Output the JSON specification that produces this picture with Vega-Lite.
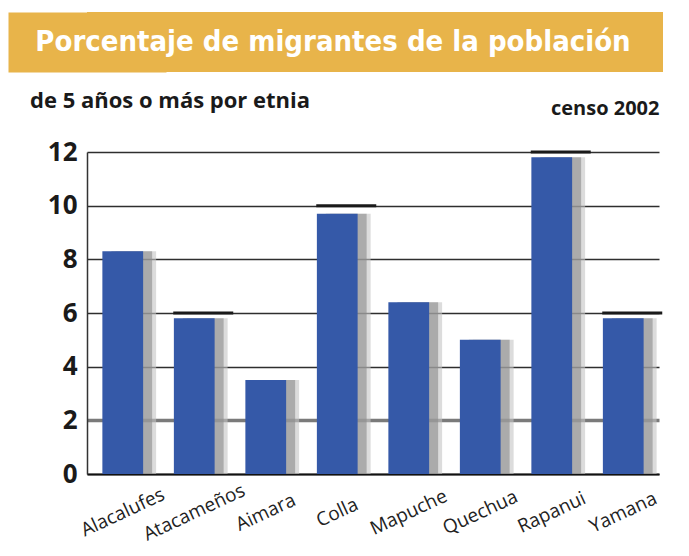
{
  "$schema": "https://vega.github.io/schema/vega-lite/v6.json",
  "background": "white",
  "padding": {"left": 8, "top": 12, "right": 0, "bottom": 0},
  "spacing": 18,
  "config": {
    "view": {"stroke": null},
    "font": "Open Sans",
    "axisY": {
      "title": null,
      "labelFont": "Open Sans",
      "labelFontSize": 26,
      "labelFontWeight": "bold",
      "labelColor": "#1a1a1a",
      "labelPadding": 10,
      "ticks": false,
      "tickSize": 0,
      "minExtent": 79,
      "domainColor": "#333333",
      "domainWidth": 1.5
    }
  },
  "datasets": {
    "titulo": [{"texto": "Porcentaje de migrantes de la población"}],
    "migrantes": [
      {"etnia": "Alacalufes", "porcentaje": 8.3},
      {"etnia": "Atacameños", "porcentaje": 5.8},
      {"etnia": "Aimara", "porcentaje": 3.5},
      {"etnia": "Colla", "porcentaje": 9.7},
      {"etnia": "Mapuche", "porcentaje": 6.4},
      {"etnia": "Quechua", "porcentaje": 5.0},
      {"etnia": "Rapanui", "porcentaje": 11.8},
      {"etnia": "Yamana", "porcentaje": 5.8}
    ],
    "marcas": [
      {"etnia": "Atacameños", "marca": 6},
      {"etnia": "Colla", "marca": 10},
      {"etnia": "Rapanui", "marca": 12},
      {"etnia": "Yamana", "marca": 6}
    ]
  },
  "vconcat": [
    {
      "width": 576,
      "height": 60,
      "view": {"fill": "#E8B44A", "stroke": null},
      "data": {"name": "titulo"},
      "mark": {
        "type": "text",
        "align": "center",
        "baseline": "middle",
        "dx": -42,
        "font": "DejaVu Sans Condensed",
        "fontSize": 29,
        "fontWeight": "bold",
        "color": "white"
      },
      "encoding": {
        "text": {"field": "texto", "type": "nominal"},
        "y": {
          "datum": 1, "type": "quantitative",
          "scale": {"domain": [0, 2]},
          "axis": {
            "title": null,
            "labels": false,
            "ticks": false,
            "grid": false,
            "domain": true,
            "domainColor": "#E8B44A",
            "domainWidth": 158,
            "domainCap": "butt",
            "minExtent": 79
          }
        }
      }
    },
    {
      "width": 572,
      "height": 322,
      "title": {
        "text": "de 5 años o más por etnia",
        "anchor": "start",
        "frame": "bounds",
        "dx": 22,
        "offset": -32,
        "baseline": "alphabetic",
        "font": "Open Sans",
        "fontSize": 22,
        "fontWeight": "bold",
        "color": "#1a1a1a"
      },
      "resolve": {"axis": {"x": "independent"}},
      "layer": [
        {
          "data": {"name": "migrantes"},
          "mark": {"type": "bar", "color": "#c4c4c4", "opacity": 0.6, "xOffset": 13},
          "encoding": {
            "x": {"field": "etnia", "type": "nominal", "sort": ["Alacalufes", "Atacameños", "Aimara", "Colla", "Mapuche", "Quechua", "Rapanui", "Yamana"], "scale": {"paddingInner": 0.43, "paddingOuter": 0.215}, "axis": null},
            "y": {"field": "porcentaje", "type": "quantitative", "scale": {"domain": [0, 12], "nice": false}, "axis": {"title": null, "values": [0, 2, 4, 6, 8, 10, 12]}}
          }
        },
        {
          "data": {"name": "migrantes"},
          "mark": {"type": "bar", "color": "#8a8a8a", "opacity": 0.6, "xOffset": 9},
          "encoding": {
            "x": {"field": "etnia", "type": "nominal", "sort": ["Alacalufes", "Atacameños", "Aimara", "Colla", "Mapuche", "Quechua", "Rapanui", "Yamana"], "axis": null},
            "y": {"field": "porcentaje", "type": "quantitative", "axis": {"title": null, "values": [0, 2, 4, 6, 8, 10, 12]}}
          }
        },
        {
          "data": {"name": "migrantes"},
          "mark": {"type": "bar", "color": "#3559A8"},
          "encoding": {
            "x": {
              "field": "etnia", "type": "nominal",
              "sort": ["Alacalufes", "Atacameños", "Aimara", "Colla", "Mapuche", "Quechua", "Rapanui", "Yamana"],
              "axis": {
                "title": null,
                "orient": "bottom",
                "labelAngle": -25,
                "labelAlign": "center",
                "labelBaseline": "middle",
                "labelPadding": 38,
                "labelFont": "Open Sans",
                "labelFontSize": 19,
                "labelColor": "#222222",
                "ticks": false,
                "tickSize": 0,
                "domain": true,
                "domainColor": "#111111",
                "domainWidth": 2
              }
            },
            "y": {
              "field": "porcentaje", "type": "quantitative",
              "axis": {
                "title": null,
                "values": [0, 2, 4, 6, 8, 10, 12],
                "grid": true,
                "gridColor": {"condition": {"test": "datum.value === 2", "value": "#7a7a7a"}, "value": "#2e2e2e"},
                "gridWidth": {"condition": {"test": "datum.value === 2", "value": 3.5}, "value": 1.5}
              }
            }
          }
        },
        {
          "data": {"name": "marcas"},
          "mark": {"type": "tick", "color": "#1a1a1a", "opacity": 1, "thickness": 3, "size": 60, "xOffset": 9},
          "encoding": {
            "x": {
              "field": "etnia", "type": "nominal",
              "sort": ["Alacalufes", "Atacameños", "Aimara", "Colla", "Mapuche", "Quechua", "Rapanui", "Yamana"],
              "axis": {
                "orient": "top",
                "labels": false,
                "ticks": false,
                "domain": false,
                "grid": false,
                "title": "censo 2002",
                "titleAnchor": "end",
                "titleBaseline": "alphabetic",
                "titlePadding": 38,
                "titleFont": "Open Sans",
                "titleFontSize": 20,
                "titleFontWeight": "bold",
                "titleColor": "#1a1a1a"
              }
            },
            "y": {"field": "marca", "type": "quantitative", "axis": {"title": null, "values": [0, 2, 4, 6, 8, 10, 12]}}
          }
        }
      ]
    }
  ]
}
